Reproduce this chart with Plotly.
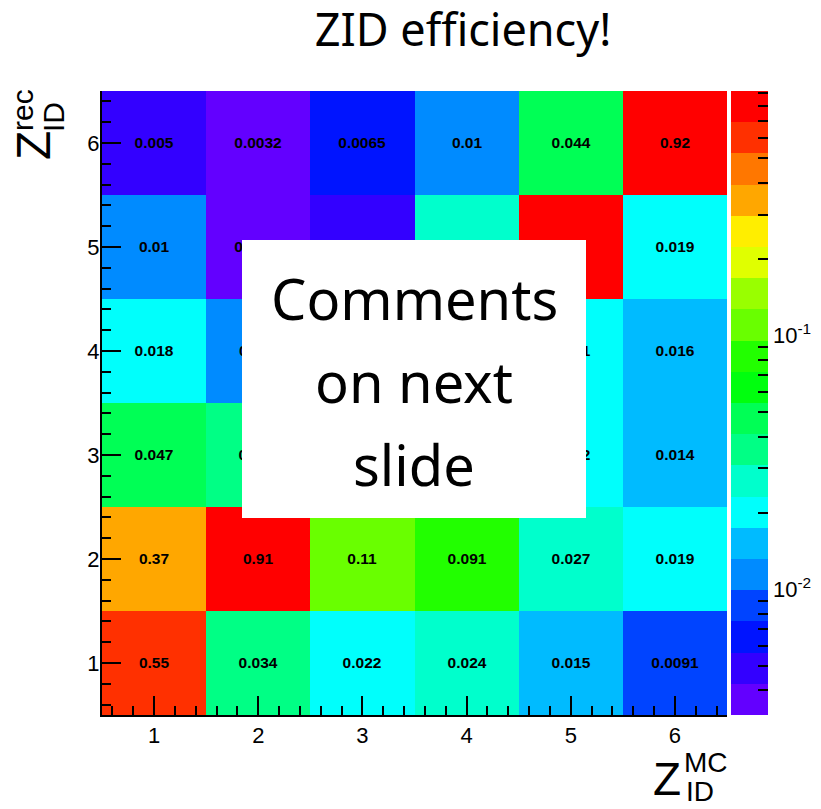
import math
import plotly.graph_objects as go

# ---------------- data ----------------
mc_bins = [1, 2, 3, 4, 5, 6]          # Z_ID^MC  (x)
rec_bins = [1, 2, 3, 4, 5, 6]         # Z_ID^rec (y)
eff_rec1 = [0.55, 0.034, 0.022, 0.024, 0.015, 0.0091]
eff_rec2 = [0.37, 0.91, 0.11, 0.091, 0.027, 0.019]
eff_rec3 = [0.047, 0.035, 0.84, 0.029, 0.022, 0.014]
eff_rec4 = [0.018, 0.011, 0.017, 0.82, 0.021, 0.016]
eff_rec5 = [0.01, 0.0035, 0.0048, 0.026, 0.87, 0.019]
eff_rec6 = [0.005, 0.0032, 0.0065, 0.01, 0.044, 0.92]
z_min_val = 0.0032
z_max_val = 0.92
cbar_major_vals = [0.01, 0.1]
cbar_major_text = ["10<sup>-2</sup>", "10<sup>-1</sup>"]
cbar_minor_vals = [0.004, 0.005, 0.006, 0.007, 0.008, 0.009,
                   0.02, 0.03, 0.04, 0.05, 0.06, 0.07, 0.08, 0.09,
                   0.2, 0.3, 0.4, 0.5, 0.6, 0.7, 0.8, 0.9]

palette = [
    "rgb(99,0,255)", "rgb(51,0,255)", "rgb(0,20,255)", "rgb(0,68,255)",
    "rgb(0,139,255)", "rgb(0,187,255)", "rgb(0,255,252)", "rgb(0,255,204)",
    "rgb(0,255,133)", "rgb(0,255,85)", "rgb(0,255,14)", "rgb(34,255,0)",
    "rgb(105,255,0)", "rgb(153,255,0)", "rgb(224,255,0)", "rgb(255,238,0)",
    "rgb(255,167,0)", "rgb(255,119,0)", "rgb(255,48,0)", "rgb(255,0,0)",
]

# ---------------- derived ----------------
rows = [eff_rec1, eff_rec2, eff_rec3, eff_rec4, eff_rec5, eff_rec6]
z = [[math.log10(v) for v in r] for r in rows]
labels = [["{:g}".format(v) for v in r] for r in rows]
zmin = math.log10(z_min_val)
zmax = math.log10(z_max_val)

n = len(palette)
cscale = []
for i, c in enumerate(palette):
    cscale.append([i / n, c])
    cscale.append([(i + 1) / n, c])

# page is rendered with an 8px body margin -> compensate
OFF = 8
PAGE_W, PAGE_H = 821, 809
W, H = PAGE_W - OFF, PAGE_H - OFF
PL, PR, PT, PB = 102, 727, 91, 715      # plot area in page pixels
ML, MT = PL - OFF, PT - OFF
MR, MB = W - (PR - OFF), H - (PB - OFF)
PW = PR - PL
PH = PB - PT


def px(xp):
    return (xp - PL) / PW


def py(yp):
    return (PB - yp) / PH


FONT = "Liberation Sans"
HAND = "Noto Sans"

fig = go.Figure()

# trace carrying the colour bar with major ticks and labels
fig.add_trace(go.Heatmap(
    x=mc_bins, y=rec_bins, z=z, zmin=zmin, zmax=zmax,
    colorscale=cscale, hoverinfo="skip", showscale=True,
    colorbar=dict(
        x=px(731), xanchor="left", xpad=0, y=0.5, yanchor="middle", ypad=0,
        len=1, lenmode="fraction", thickness=37, outlinewidth=0,
        tickmode="array", tickvals=[math.log10(v) for v in cbar_major_vals],
        ticktext=cbar_major_text, ticks="inside", ticklen=20, tickwidth=1.5,
        tickcolor="black", tickfont=dict(family=FONT, size=22, color="black"),
    ),
))

# main trace with cell labels and minor colour-bar ticks
fig.add_trace(go.Heatmap(
    x=mc_bins, y=rec_bins, z=z, zmin=zmin, zmax=zmax,
    colorscale=cscale, text=labels, texttemplate="<b>%{text}</b>",
    textfont=dict(family=FONT, size=15.5, color="black"),
    hovertemplate="MC %{x}, rec %{y}: %{text}<extra></extra>",
    showscale=True,
    colorbar=dict(
        x=px(731), xanchor="left", xpad=0, y=0.5, yanchor="middle", ypad=0,
        len=1, lenmode="fraction", thickness=37, outlinewidth=0,
        tickmode="array", tickvals=[math.log10(v) for v in cbar_minor_vals],
        ticks="inside", ticklen=10, tickwidth=1.5, tickcolor="black",
        showticklabels=False,
    ),
))

axis_common = dict(
    range=[0.5, 6.5], tickmode="linear", tick0=1, dtick=1,
    ticks="inside", ticklen=19, tickwidth=1.5, tickcolor="black",
    showline=True, linewidth=2, linecolor="black", mirror=False,
    showgrid=False, zeroline=False,
    tickfont=dict(family=FONT, size=22, color="black"),
    minor=dict(tick0=0, dtick=0.2, ticks="inside", ticklen=9,
               tickwidth=1.5, tickcolor="black", showgrid=False),
)

fig.update_layout(
    width=W, height=H,
    margin=dict(l=ML, r=MR, t=MT, b=MB, autoexpand=False),
    paper_bgcolor="white", plot_bgcolor="white",
    xaxis=dict(axis_common, ticklabelstandoff=0),
    yaxis=dict(axis_common, ticklabelstandoff=-4),
    title=dict(text="ZID efficiency!", x=(463 - OFF) / W, xanchor="center",
               y=1 - (30 - OFF) / H, yanchor="middle", yref="container",
               font=dict(family=HAND, size=45, color="black")),
    showlegend=False,
)

# white comment box over the plot
fig.add_shape(type="rect", xref="paper", yref="paper",
              x0=px(242), x1=px(586), y0=py(518), y1=py(240),
              fillcolor="white", line=dict(width=0), layer="above")

annos = []
for txt, yy in [("Comments", 298), ("on next", 381), ("slide", 464)]:
    annos.append(dict(text=txt, x=px(414), y=py(yy), xref="paper", yref="paper",
                      xanchor="center", yanchor="middle", showarrow=False,
                      font=dict(family=HAND, size=56, color="black")))

# y-axis title  Z^rec_ID  (rotated)
annos.append(dict(text="Z", x=px(33), y=py(146), xref="paper", yref="paper",
                  textangle=-90, showarrow=False, xanchor="center", yanchor="middle",
                  font=dict(family=FONT, size=48, color="black")))
annos.append(dict(text="rec", x=px(22), y=py(110), xref="paper", yref="paper",
                  textangle=-90, showarrow=False, xanchor="center", yanchor="middle",
                  font=dict(family=FONT, size=30, color="black")))
annos.append(dict(text="ID", x=px(54), y=py(117), xref="paper", yref="paper",
                  textangle=-90, showarrow=False, xanchor="center", yanchor="middle",
                  font=dict(family=FONT, size=30, color="black")))

# x-axis title  Z^MC_ID
annos.append(dict(text="Z", x=px(667), y=py(779), xref="paper", yref="paper",
                  showarrow=False, xanchor="center", yanchor="middle",
                  font=dict(family=FONT, size=46, color="black")))
annos.append(dict(text="MC", x=px(706), y=py(762), xref="paper", yref="paper",
                  showarrow=False, xanchor="center", yanchor="middle",
                  font=dict(family=FONT, size=28, color="black")))
annos.append(dict(text="ID", x=px(700), y=py(791), xref="paper", yref="paper",
                  showarrow=False, xanchor="center", yanchor="middle",
                  font=dict(family=FONT, size=28, color="black")))

fig.update_layout(annotations=annos)

fig.write_html("out.html")
